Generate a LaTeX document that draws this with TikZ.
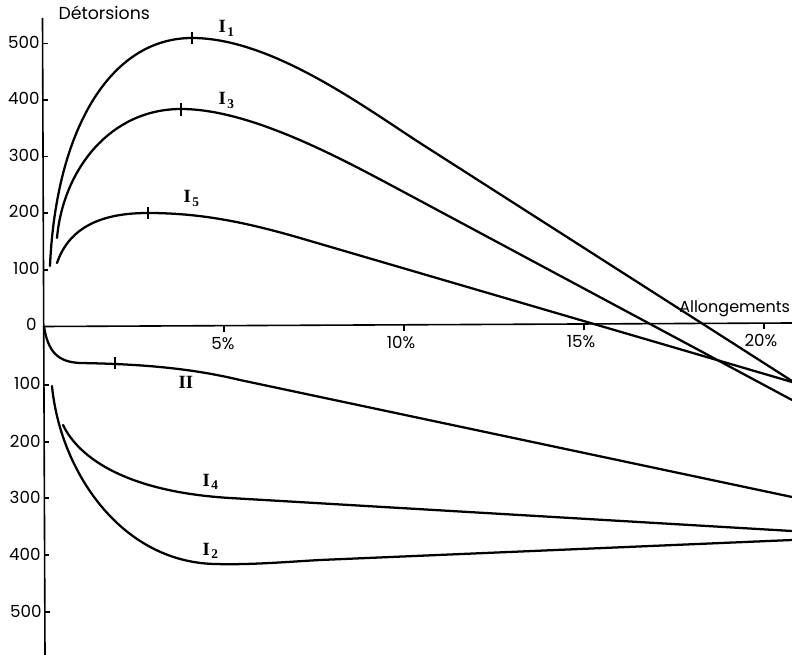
\documentclass[tikz,border=0pt]{standalone}
\usepackage{fontspec}
\setmainfont{Poppins}
\newfontfamily\labfont{Liberation Serif}

\tikzset{every picture/.style={line width=0.75pt}}
\tikzset{
  detcurve/.style={line width=1.7, line cap=round},
  axisline/.style={line width=1.2},
  axtick/.style={line width=1.1},
  numlab/.style={inner sep=0.75pt, font=\fontsize{12.5}{14}\selectfont},
  titlelab/.style={inner sep=0.75pt, font=\fontsize{12}{14}\selectfont},
  curvelab/.style={inner sep=0.75pt, anchor=base west, font=\labfont\bfseries\fontsize{14}{16}\selectfont},
}
\newcommand{\subidx}[1]{\kern1.2pt\raisebox{-0.4ex}{\fontsize{10}{10}\selectfont #1}}

\begin{document}
\begin{tikzpicture}[x=0.75pt,y=0.75pt,yscale=-1,xscale=1]
\useasboundingbox (0,0) rectangle (792,655);

%Straight Lines [axes]
\draw [axisline]    (42.5,18) -- (45,655) ;
\draw [axisline]    (44,326.5) -- (792,323) ;

%Straight Lines [ticks on the vertical axis]
\draw [axtick]    (43,43.5) -- (48,43.5) ;
\draw [axtick]    (43,100) -- (48,100) ;
\draw [axtick]    (43,156.5) -- (48,156.5) ;
\draw [axtick]    (43,213) -- (48,213) ;
\draw [axtick]    (43,270) -- (48,270) ;
\draw [axtick]    (44,385) -- (49,385) ;
\draw [axtick]    (44,442) -- (49,442) ;
\draw [axtick]    (44,498) -- (49,498) ;
\draw [axtick]    (44,555) -- (49,555) ;
\draw [axtick]    (45,612) -- (50,612) ;

%Straight Lines [ticks on the horizontal axis]
\draw [axtick]    (224,325.7) -- (224,332.5) ;
\draw [axtick]    (404,324.8) -- (404,331.5) ;
\draw [axtick]    (584,324) -- (584,330.5) ;
\draw [axtick]    (764,323.1) -- (764,329.5) ;

%Curve Lines [I1]
\draw [detcurve]    (50,266) .. controls (56,130) and (110,38) .. (192,38) .. controls (270,38) and (360,104) .. (420,143) -- (792,381) ;
%Curve Lines [I3]
\draw [detcurve]    (57,238) .. controls (63,170) and (110,109) .. (181,109) .. controls (250,109) and (340,158) .. (400,190) -- (792,400) ;
%Curve Lines [I5]
\draw [detcurve]    (57,263) .. controls (70,225) and (105,213) .. (148,213) .. controls (200,213) and (245,222) .. (300,238) -- (792,382) ;
%Curve Lines [II]
\draw [detcurve]    (44,326.5) .. controls (48,352) and (58,362) .. (80,363) .. controls (140,364) and (190,368) .. (240,380) -- (792,497) ;
%Curve Lines [I4]
\draw [detcurve]    (63,425) .. controls (80,460) and (130,492) .. (230,498) -- (792,531) ;
%Curve Lines [I2]
\draw [detcurve]    (52,386) .. controls (60,470) and (120,562) .. (215,564) .. controls (250,565) and (285,562) .. (320,560) -- (792,540) ;

%Straight Lines [marks at the maxima]
\draw [axtick]    (192,32) -- (192,44) ;
\draw [axtick]    (181,103) -- (181,116) ;
\draw [axtick]    (148,207) -- (148,219) ;
\draw [axtick]    (115,357) -- (115,369) ;

% Text Node
\draw (57,20) node (ttl) [anchor=base west] [titlelab] [font=\fontsize{13}{15}\selectfont] {Détorsions};
% Text Node
\draw (791.5,313) node (abs) [anchor=base east] [titlelab] {Allongements};
% Text Node
\draw (41,42) node (yp500) [anchor=east] [numlab] {500};
% Text Node
\draw (41,98) node (yp400) [anchor=east] [numlab] {400};
% Text Node
\draw (41,155) node (yp300) [anchor=east] [numlab] {300};
% Text Node
\draw (41,211) node (yp200) [anchor=east] [numlab] {200};
% Text Node
\draw (41,268) node (yp100) [anchor=east] [numlab] {100};
% Text Node
\draw (38,324) node (yzero) [anchor=east] [numlab] {0};
% Text Node
\draw (42,383) node (yn100) [anchor=east] [numlab] {100};
% Text Node
\draw (42,441) node (yn200) [anchor=east] [numlab] {200};
% Text Node
\draw (42,497) node (yn300) [anchor=east] [numlab] {300};
% Text Node
\draw (42,554) node (yn400) [anchor=east] [numlab] {400};
% Text Node
\draw (43,611) node (yn500) [anchor=east] [numlab] {500};
% Text Node
\draw (223,343.5) node (xp5) [numlab] {5\%};
% Text Node
\draw (401,342.5) node (xp10) [numlab] {10\%};
% Text Node
\draw (581,341.5) node (xp15) [numlab] {15\%};
% Text Node
\draw (761,340.5) node (xp20) [numlab] {20\%};
% Text Node
\draw (217,33) node (lbI1) [curvelab] {I\subidx{1}};
% Text Node
\draw (217,105) node (lbI3) [curvelab] {I\subidx{3}};
% Text Node
\draw (182,203) node (lbI5) [curvelab] {I\subidx{5}};
% Text Node
\draw (177,389) node (lbII) [curvelab] {II};
% Text Node
\draw (201,486) node (lbI4) [curvelab] {I\subidx{4}};
% Text Node
\draw (201,555) node (lbI2) [curvelab] {I\subidx{2}};

\end{tikzpicture}
\end{document}
